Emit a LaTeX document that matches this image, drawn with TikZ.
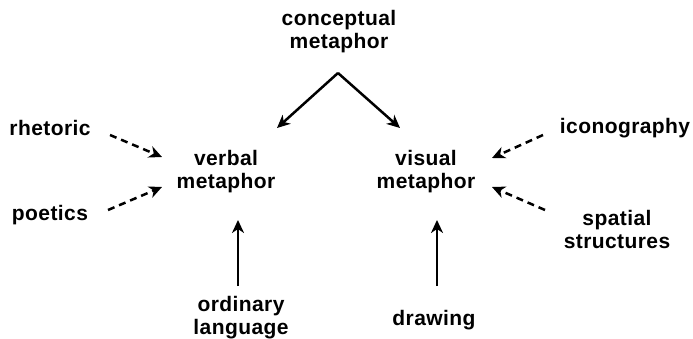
\documentclass[tikz,border=0pt]{standalone}
\usepackage{fontspec}
\setmainfont{Liberation Sans}[LetterSpace=2]
\usetikzlibrary{arrows.meta}
\begin{document}
\begin{tikzpicture}[x=1pt,y=-1pt,
  lbl/.style={font=\bfseries\fontsize{21}{23}\selectfont, align=center, inner sep=0pt},
  link/.style={line width=2.5pt, -{Stealth[length=13pt,width=12pt,inset=4pt]}},
  dlink/.style={link, dash pattern=on 7pt off 5pt}]
\useasboundingbox (0,0) rectangle (693,339);
% labels
\node[lbl] (concept) at (339,32) {conceptual\\metaphor};
\node[lbl] (verbal) at (226,172) {verbal\\metaphor};
\node[lbl] (visual) at (426,172) {visual\\metaphor};
\node[lbl] (rhet) at (50,128) {rhetoric};
\node[lbl] (poet) at (50,215) {poetics};
\node[lbl] (icon) at (625,128) {iconography};
\node[lbl] (spatial) at (617,229) {spatial\\structures};
\node[lbl] (ordinary) at (241,318) {ordinary\\language};
\node[lbl] (draw) at (434,320) {drawing};
% arrow anchor points
\coordinate (apex) at (338,73);
\coordinate (vbtip) at (277,128);
\coordinate (vstip) at (400,128);
\coordinate (rhetA) at (110,135);
\coordinate (rhetB) at (162,157);
\coordinate (poetA) at (108,210);
\coordinate (poetB) at (162,187);
\coordinate (iconA) at (543,135);
\coordinate (iconB) at (492,158);
\coordinate (spatA) at (545,210);
\coordinate (spatB) at (492,187);
\coordinate (ordA) at (238,286);
\coordinate (ordB) at (238,220);
\coordinate (drawA) at (437,286);
\coordinate (drawB) at (437,220);
% connectors
\draw[link] (apex) -- (vbtip);
\draw[link] (apex) -- (vstip);
\draw[dlink] (rhetA) -- (rhetB);
\draw[dlink] (poetA) -- (poetB);
\draw[dlink] (iconA) -- (iconB);
\draw[dlink] (spatA) -- (spatB);
\draw[link] (ordA) -- (ordB);
\draw[link] (drawA) -- (drawB);
\end{tikzpicture}
\end{document}
